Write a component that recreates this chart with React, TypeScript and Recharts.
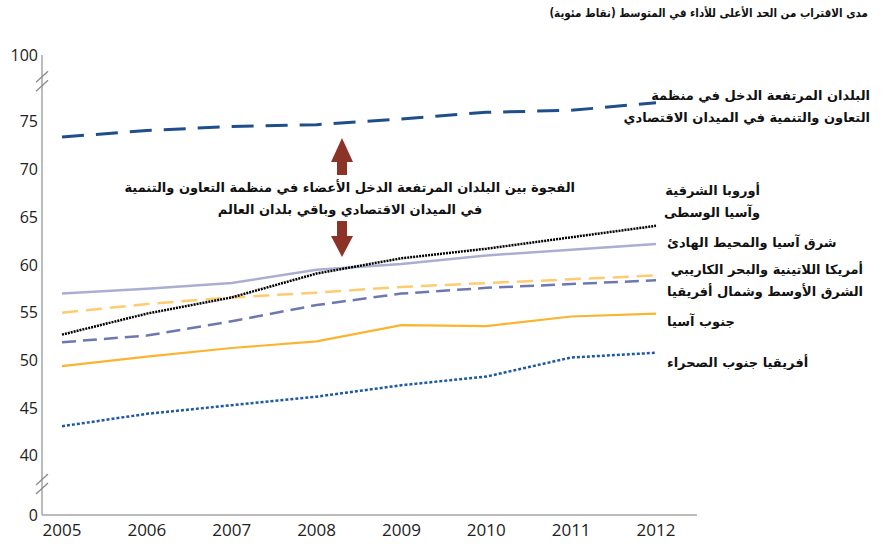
import { LineChart, Line, XAxis, YAxis } from "recharts"

const years = ["2005", "2006", "2007", "2008", "2009", "2010", "2011", "2012"]

// نقاط مئوية
const oecdHigh = [73.4, 74.1, 74.5, 74.7, 75.3, 76.0, 76.2, 77.0]
const eeca = [52.7, 54.9, 56.6, 59.1, 60.7, 61.7, 62.9, 64.1]
const eap = [57.0, 57.5, 58.1, 59.5, 60.1, 61.0, 61.6, 62.2]
const lac = [55.0, 55.9, 56.6, 57.1, 57.7, 58.1, 58.5, 58.9]
const mena = [51.9, 52.6, 54.1, 55.8, 57.0, 57.6, 58.0, 58.4]
const southAsia = [49.4, 50.4, 51.3, 52.0, 53.7, 53.6, 54.6, 54.9]
const ssa = [43.1, 44.4, 45.3, 46.2, 47.4, 48.3, 50.3, 50.8]

// broken axis: 0 and 100 are drawn closer than their true distance
const Y_ZERO = 33.8
const Y_HUNDRED = 82.0
const BREAK_LOW = 36.9
const BREAK_HIGH = 79.1
const yTicks = [Y_ZERO, BREAK_LOW, 40, 45, 50, 55, 60, 65, 70, 75, BREAK_HIGH, Y_HUNDRED]
const yTickLabels: Record<number, string> = { [Y_ZERO]: "0", [Y_HUNDRED]: "100" }

const data = years.map((year, i) => ({
  year,
  oecdHigh: oecdHigh[i],
  eeca: eeca[i],
  eap: eap[i],
  lac: lac[i],
  mena: mena[i],
  southAsia: southAsia[i],
  ssa: ssa[i],
}))

const arabic = "'DejaVu Sans', sans-serif"
const numFont = "'Open Sans', sans-serif"
const AXIS = "#a6a6a6"
const ARROW = "#8c3327"

function YTick(props: any) {
  const { x, y, payload } = props
  const v = payload.value
  if (v === BREAK_LOW || v === BREAK_HIGH) {
    const ax = x + 4
    return (
      <g stroke="#8a8a8a" strokeWidth={1.3}>
        <line x1={ax - 6} y1={y - 0.5} x2={ax + 6} y2={y - 11.5} />
        <line x1={ax - 6} y1={y + 8.5} x2={ax + 6} y2={y - 2.5} />
      </g>
    )
  }
  const label = yTickLabels[v] ?? String(v)
  return (
    <text x={x} y={y} dy="0.35em" textAnchor="end" fontSize={16} fill="#222" fontFamily={numFont}>
      {label}
    </text>
  )
}

const labelStyle: React.CSSProperties = {
  position: "absolute",
  fontFamily: arabic,
  fontWeight: "bold",
  fontSize: 13,
  color: "#111",
  direction: "rtl",
  whiteSpace: "nowrap",
  lineHeight: "22px",
}

export default function App() {
  return (
    <div style={{ position: "absolute", left: 0, top: 0, width: 884, height: 548, background: "#fff" }}>
      <LineChart width={884} height={548} data={data} margin={{ top: 55, right: 187, bottom: 0, left: 0 }}>
        <XAxis
          dataKey="year"
          padding={{ left: 20, right: 41 }}
          height={33}
          tickLine={false}
          tickSize={0}
          tickMargin={9}
          stroke={AXIS}
          strokeWidth={1.5}
          tick={{ fontSize: 17, fill: "#222", fontFamily: numFont }}
        />
        <YAxis
          type="number"
          domain={[Y_ZERO, Y_HUNDRED]}
          ticks={yTicks}
          interval={0}
          width={42}
          tickLine={false}
          tickSize={0}
          tickMargin={4}
          stroke={AXIS}
          strokeWidth={1.5}
          allowDataOverflow
          tick={<YTick />}
        />
        <Line dataKey="ssa" stroke="#1f5aa0" strokeWidth={2.5} strokeDasharray="3 2" dot={false} isAnimationActive={false} />
        <Line dataKey="southAsia" stroke="#fbb42f" strokeWidth={2.2} dot={false} isAnimationActive={false} />
        <Line dataKey="mena" stroke="#6e78b0" strokeWidth={2.5} strokeDasharray="14 7" dot={false} isAnimationActive={false} />
        <Line dataKey="lac" stroke="#ffcb70" strokeWidth={2.5} strokeDasharray="16 8" dot={false} isAnimationActive={false} />
        <Line dataKey="eap" stroke="#aaafd2" strokeWidth={2.5} dot={false} isAnimationActive={false} />
        <Line dataKey="eeca" stroke="#000" strokeWidth={2.5} strokeDasharray="2 1" dot={false} isAnimationActive={false} />
        <Line dataKey="oecdHigh" stroke="#1f4e8c" strokeWidth={3} strokeDasharray="22 12" dot={false} isAnimationActive={false} />
      </LineChart>

      <svg width={884} height={548} style={{ position: "absolute", left: 0, top: 0, pointerEvents: "none" }}>
        <polygon points="342,138 353,162 347,162 347,175 337,175 337,162 331,162" fill={ARROW} />
        <polygon points="342,257 353,236 347,236 347,221 337,221 337,236 331,236" fill={ARROW} />
      </svg>

      <div
        style={{
          ...labelStyle,
          right: 16,
          top: 2,
          fontSize: 11.5,
          fontFamily: "'DejaVu Sans Condensed', 'DejaVu Sans', sans-serif",
        }}
      >
        مدى الاقتراب من الحد الأعلى للأداء في المتوسط (نقاط مئوية)
      </div>

      <div style={{ ...labelStyle, left: 125, width: 450, top: 177, textAlign: "center" }}>
        الفجوة بين البلدان المرتفعة الدخل الأعضاء في منظمة التعاون والتنمية
        <br />
        في الميدان الاقتصادي وباقي بلدان العالم
      </div>

      <div style={{ ...labelStyle, right: 14, top: 85, textAlign: "right" }}>
        البلدان المرتفعة الدخل في منظمة
        <br />
        التعاون والتنمية في الميدان الاقتصادي
      </div>
      <div style={{ ...labelStyle, right: 124, top: 180, textAlign: "right" }}>
        أوروبا الشرقية
        <br />
        وآسيا الوسطى
      </div>
      <div style={{ ...labelStyle, left: 667, top: 232 }}>شرق آسيا والمحيط الهادئ</div>
      <div style={{ ...labelStyle, left: 667, top: 259 }}>
        أمريكا اللاتينية والبحر الكاريبي
        <br />
        الشرق الأوسط وشمال أفريقيا
      </div>
      <div style={{ ...labelStyle, left: 667, top: 311 }}>جنوب آسيا</div>
      <div style={{ ...labelStyle, left: 667, top: 352 }}>أفريقيا جنوب الصحراء</div>
    </div>
  )
}
